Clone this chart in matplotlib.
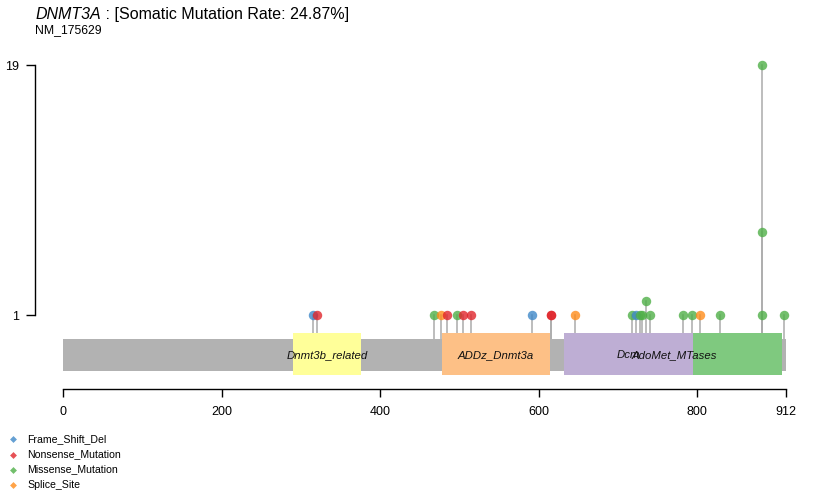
import numpy as np
import matplotlib
matplotlib.use("Agg")
import matplotlib.pyplot as plt
from matplotlib.lines import Line2D

plt.rcParams['font.family'] = ['Liberation Sans', 'DejaVu Sans']

# protein info
gene = "DNMT3A"
refseq = "NM_175629"
mut_rate = "24.87%"
prot_len = 912

# domains (start, end) in amino acids, drawn in this order
dom_names = ["Dnmt3b_related", "ADDz_Dnmt3a", "AdoMet_MTases", "Dcm"]
dom_start = [290, 478, 635, 632]
dom_end = [376, 614, 907, 795]
dom_cols = ["#FFFF99", "#FDC086", "#7FC97F", "#BEAED4"]

# mutations: position, count, class
mut_pos = [315, 321, 468, 477, 485, 497, 505, 515, 591, 615, 615, 646,
           718, 723, 728, 730, 736, 741, 782, 793, 803, 829, 882, 882, 882, 910]
mut_cnt = [1, 1, 1, 1, 1, 1, 1, 1, 1, 1, 1, 1,
           1, 1, 1, 1, 2, 1, 1, 1, 1, 1, 19, 7, 1, 1]
mut_cls = ["Frame_Shift_Del", "Nonsense_Mutation", "Missense_Mutation", "Splice_Site",
           "Nonsense_Mutation", "Missense_Mutation", "Nonsense_Mutation", "Nonsense_Mutation",
           "Frame_Shift_Del", "Nonsense_Mutation", "Nonsense_Mutation", "Splice_Site",
           "Missense_Mutation", "Frame_Shift_Del", "Missense_Mutation", "Missense_Mutation",
           "Missense_Mutation", "Missense_Mutation", "Missense_Mutation", "Missense_Mutation",
           "Splice_Site", "Missense_Mutation", "Missense_Mutation", "Missense_Mutation",
           "Missense_Mutation", "Missense_Mutation"]

classes = ["Frame_Shift_Del", "Nonsense_Mutation", "Missense_Mutation", "Splice_Site"]
class_cols = {"Frame_Shift_Del": "#3F88C8", "Nonsense_Mutation": "#E0262C",
              "Missense_Mutation": "#4FAF47", "Splice_Site": "#FF8C1A"}

y_ticks = [1, 19]
x_ticks = [0, 200, 400, 600, 800, 912]

W, H = 813, 499
fig = plt.figure(figsize=(W / 100, H / 100), dpi=100)
ax = fig.add_axes([0, 0, 1, 1])

# pixel layout -> data limits
px_per_aa = (786 - 63) / prot_len
px_per_cnt = (315 - 65) / 18
ax.set_xlim(-63 / px_per_aa, (W - 63) / px_per_aa)
ax.set_ylim(1 - (H - 315) / px_per_cnt, 1 + 315 / px_per_cnt)

bar_top = 1 - (339 - 315) / px_per_cnt
bar_bot = 1 - (371 - 315) / px_per_cnt
dom_top = 1 - (332.5 - 315) / px_per_cnt
dom_bot = 1 - (375 - 315) / px_per_cnt
axis_y = 1 - (389 - 315) / px_per_cnt
yaxis_x = (35 - 63) / px_per_aa

# stems
for p, c in zip(mut_pos, mut_cnt):
    ax.plot([p, p], [bar_top, c], color="#ABABAB", lw=1.1, zorder=1)

# protein backbone
ax.fill_between([0, prot_len], bar_bot, bar_top, color="#B2B2B2", lw=0, zorder=2)

# domains
for n, s, e, col in zip(dom_names, dom_start, dom_end, dom_cols):
    ax.fill_between([s, e], dom_bot, dom_top, color=col, lw=0, zorder=3)
for n, s, e in zip(dom_names, dom_start, dom_end):
    ax.text((s + e) / 2, (bar_top + bar_bot) / 2, n, style="italic", fontsize=8.2,
            ha="center", va="center", color="#111111", zorder=4)

# lollipop heads
for p, c, k in zip(mut_pos, mut_cnt, mut_cls):
    ax.plot(p, c, "o", ms=6.8, color=class_cols[k], alpha=0.8, mec="none", zorder=5)

# axes
for s in ["top", "right"]:
    ax.spines[s].set_visible(False)
ax.spines["left"].set_position(("data", yaxis_x))
ax.spines["left"].set_bounds(1, 19)
ax.spines["bottom"].set_position(("data", axis_y))
ax.spines["bottom"].set_bounds(0, prot_len)
ax.set_xticks(x_ticks)
ax.set_xticklabels([str(t) for t in x_ticks])
ax.set_yticks(y_ticks)
ax.set_yticklabels([str(t) for t in y_ticks])
ax.tick_params(axis="x", length=6, width=1, pad=6, labelsize=9)
ax.tick_params(axis="y", length=6.5, width=1, pad=5, labelsize=9)
ax.spines["left"].set_linewidth(1)
ax.spines["bottom"].set_linewidth(1)

# title
t1 = fig.text(35 / W, 1 - 19 / H, gene, style="italic", fontsize=11.5, va="baseline")
ax.annotate(" : [Somatic Mutation Rate: " + mut_rate + "]", xy=(1, 0), xycoords=t1,
            fontsize=11.5, va="bottom", ha="left", annotation_clip=False)
fig.text(35 / W, 1 - 33 / H, refseq, fontsize=8.8, va="baseline")

# legend
leg_y = [439, 454.5, 469.5, 485]
for k, yy in zip(classes, leg_y):
    fig.add_artist(Line2D([13 / W], [1 - yy / H], marker="D", ms=3.5, color=class_cols[k],
                          alpha=0.8, mec="none", transform=fig.transFigure))
    fig.text(27 / W, 1 - yy / H, k, fontsize=7.6, va="center")

fig.savefig("out.png", dpi=100)
